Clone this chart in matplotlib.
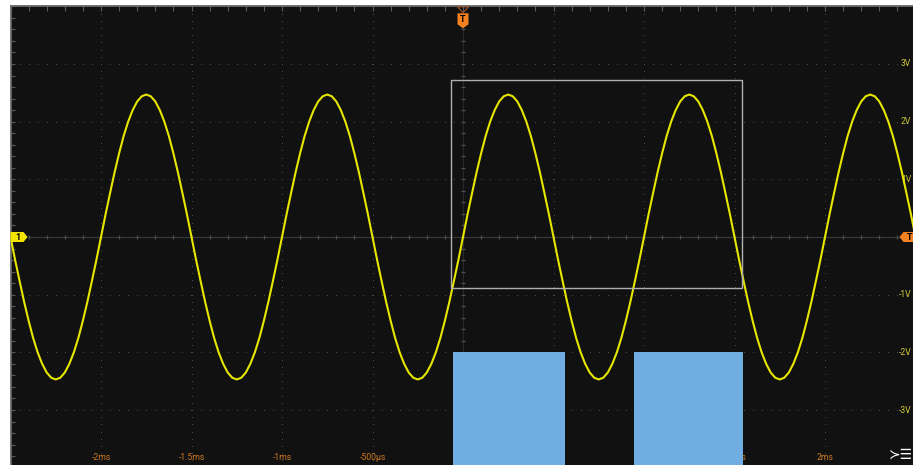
import matplotlib.pyplot as plt
import matplotlib.transforms as mtransforms
from matplotlib.patches import Polygon, Rectangle
import numpy as np

ch1_period = [0.0, -0.39, -0.76, -1.12, -1.45, -1.75, -2.00, -2.20, -2.35, -2.44,
              -2.47, -2.44, -2.35, -2.20, -2.00, -1.75, -1.45, -1.12, -0.76, -0.39,
              0.0, 0.39, 0.76, 1.12, 1.45, 1.75, 2.00, 2.20, 2.35, 2.44,
              2.47, 2.44, 2.35, 2.20, 2.00, 1.75, 1.45, 1.12, 0.76, 0.39]
ch1_step = 0.025   # ms
ch1_t0 = -2.5      # ms
ch1_n_periods = 5

# Kanal 2 (blaue Bloecke), Zeiten in ms, Oberkante in V
ch2_start = [-0.055, 0.946]
ch2_end = [0.564, 1.545]
ch2_top = [-2.0, -2.0]

# Zoom-Fenster
zoom_t = [-0.066, 1.541]
zoom_v = [-0.88, 2.72]

volt_ticks = [3, 2, 1, -1, -2, -3]
volt_labels = ['3V', '2V', '1V', '-1V', '-2V', '-3V']
time_ticks = [-2, -1.5, -1, -0.5, 0, 0.5, 1, 1.5, 2]
time_labels = ['-2ms', '-1.5ms', '-1ms', '-500µs', '0', '500µs', '1ms', '1.5ms', '2ms']

ch1_v = np.append(np.tile(ch1_period, ch1_n_periods), ch1_period[0])
ch1_t = ch1_t0 + np.arange(len(ch1_v)) * ch1_step

plt.rcParams['font.family'] = ['Roboto', 'DejaVu Sans']

fig = plt.figure(figsize=(9.13, 4.65), dpi=100, facecolor='white')
ax = fig.add_axes([10.5 / 913, -2.7 / 465, 905 / 913, 461.4 / 465])
ax.set_facecolor('#111111')
ax.set_xlim(-2.5, 2.5)
ax.set_ylim(-4, 4)

for s in ['right', 'bottom']:
    ax.spines[s].set_visible(False)
for s in ['top', 'left']:
    ax.spines[s].set_color('#6a6a6a')
    ax.spines[s].set_linewidth(1.3)

ax.set_xticks(np.round(np.arange(-2.5, 2.5001, 0.1), 3))
ax.set_yticks(np.round(np.arange(-4, 4.001, 0.2), 3))
ax.tick_params(axis='x', top=True, bottom=False, direction='in', length=3.5,
               color='#5a5a5a', labelbottom=False, labeltop=False)
ax.tick_params(axis='y', left=True, right=False, direction='in', length=3,
               color='#5a5a5a', labelleft=False)

# Punktraster
dot_t = np.arange(-2.5, 2.5, 0.05)
for v in [-3, -2, -1, 1, 2, 3]:
    ax.plot(dot_t, np.full(len(dot_t), v), ls='none', marker='s', ms=0.7, mew=0,
            color='#4a4a4a', zorder=1)
dot_v = np.arange(-4, 4, 0.125)
for t in [-2, -1.5, -1, -0.5, 0.5, 1, 1.5, 2]:
    ax.plot(np.full(len(dot_v), t), dot_v, ls='none', marker='s', ms=0.7, mew=0,
            color='#4a4a4a', zorder=1)

# Mittelachsen mit Teilstrichen
ax.axhline(0, color='#383838', lw=0.9, zorder=1)
tk = np.arange(-2.5, 2.5, 0.1)
ax.plot(tk, np.zeros(len(tk)), ls='none', marker='|', ms=3, mew=0.9,
        color='#505050', zorder=1)
ax.axvline(0, color='#2a2a2a', lw=0.8, zorder=1)
vk = np.arange(-4, 4, 0.2)
ax.plot(np.zeros(len(vk)), vk, ls='none', marker='_', ms=3.5, mew=0.9,
        color='#505050', zorder=1)

# Beschriftungen
for t, lab in zip(time_ticks, time_labels):
    ax.text(t, -3.83, lab, color='#cc7a22', fontsize=6.2, ha='center', va='center',
            zorder=2)
for v, lab in zip(volt_ticks, volt_labels):
    ax.text(2.477, v, lab, color='#cfc838', fontsize=6.2, ha='right', va='center',
            zorder=2)

# Signal
ax.plot(ch1_t, ch1_v, color='#e6e600', lw=1.5, zorder=3)

# Kanal 2
for t0, t1, top in zip(ch2_start, ch2_end, ch2_top):
    ax.bar(t0, top + 4.5, width=t1 - t0, bottom=-4.5, align='edge',
           color='#70aee2', zorder=4)

ax.add_patch(Rectangle((zoom_t[0], zoom_v[0]), zoom_t[1] - zoom_t[0],
                       zoom_v[1] - zoom_v[0], fill=False, ec='#b0b0b0', lw=1,
                       zorder=5))


# Marker (Pixel-Offsets relativ zu einem Datenpunkt)
def marker(x0, y0, verts, fc, ec='none', fill=True, text=None, tdx=0, tdy=0,
           tcolor='black'):
    tr = mtransforms.ScaledTranslation(x0, y0, ax.transData)
    ax.add_patch(Polygon(verts, closed=True, transform=tr, fc=fc if fill else 'none',
                         ec=ec, lw=0.8, clip_on=False, zorder=6))
    if text:
        ax.annotate(text, (x0, y0), xytext=(tdx, tdy), textcoords='offset pixels',
                    ha='center', va='center', fontsize=6.5, fontweight='bold',
                    color=tcolor, zorder=7, annotation_clip=False)


marker(-2.5, 0, [(0, 5), (13, 5), (17, 0), (13, -5), (0, -5)], '#f2e600',
       text='1', tdx=7, tdy=0)
marker(2.5, 0, [(0, 5), (-12, 5), (-16, 0), (-12, -5), (0, -5)], '#f58220',
       text='T', tdx=-6, tdy=0)
marker(0, 4, [(-5.5, -7), (5.5, -7), (5.5, -18), (0, -22), (-5.5, -18)], '#f58220',
       text='T', tdx=0, tdy=-13)
marker(0, 4, [(-5.5, -0.5), (5.5, -0.5), (0, -6.5)], None, ec='#a0562a', fill=False)

fig.text(901 / 913, 1 - 454 / 465, '≻☰', color='white', fontsize=10,
         ha='center', va='center', family=['DejaVu Sans'])

fig.savefig('out.png', dpi=100, facecolor='white')
